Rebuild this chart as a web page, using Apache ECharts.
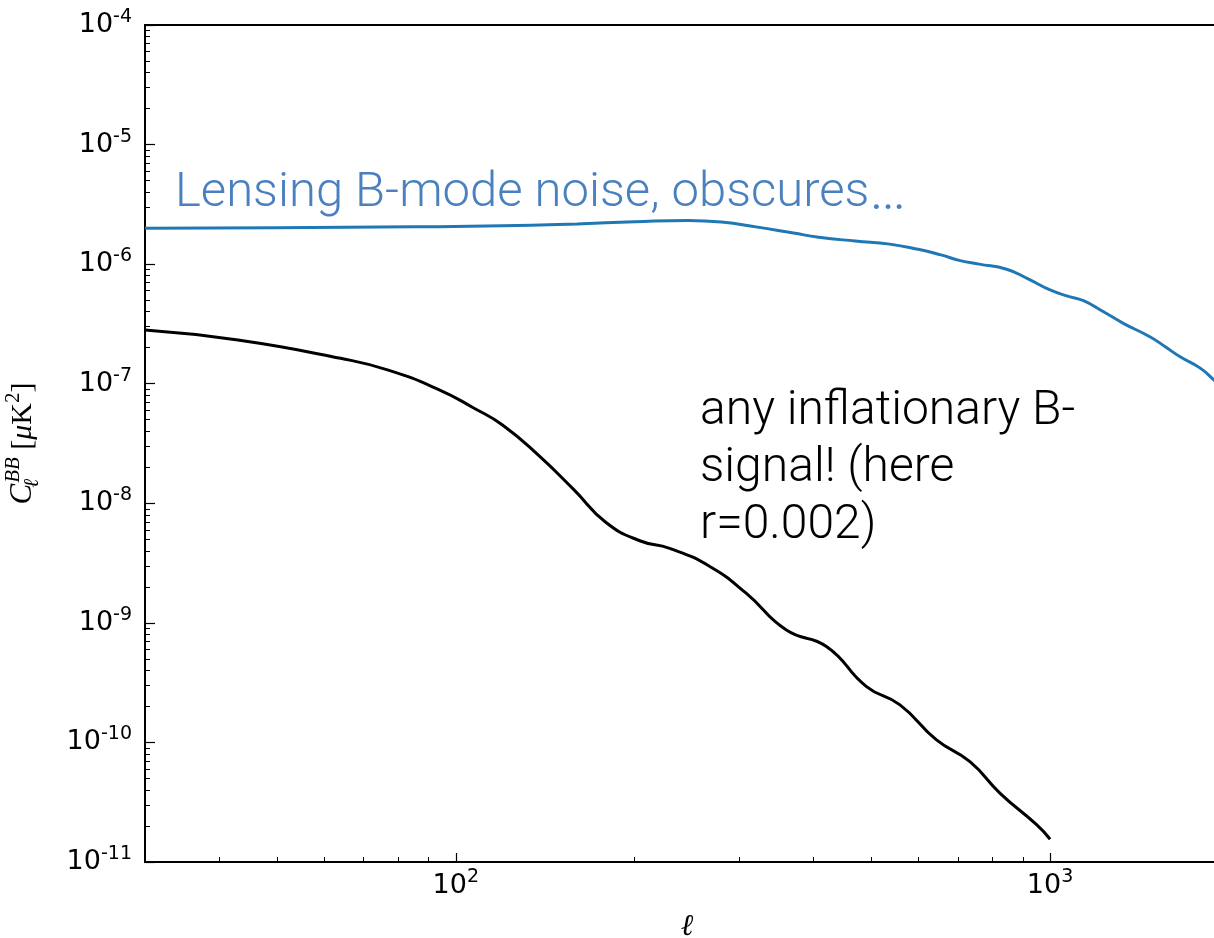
<!DOCTYPE html>
<html>
<head>
<meta charset="utf-8">
<script src="https://cdn.jsdelivr.net/npm/echarts@6/dist/echarts.min.js"></script>
<style>html,body{margin:0;padding:0;background:#fff}#c{width:1214px;height:938px}</style>
</head>
<body>
<div id="c"></div>
<script>
// ---- data ----
const lensEll = [30, 50, 85, 120, 160, 200, 246, 280, 320, 370, 408, 470, 537, 600, 653, 706, 760, 845, 920, 1000, 1070, 1138, 1230, 1328, 1472, 1560, 1655, 1789, 1888, 2000];
const lensCl  = [2.00e-6, 2.02e-6, 2.05e-6, 2.09e-6, 2.17e-6, 2.26e-6, 2.32e-6, 2.25e-6, 2.05e-6, 1.82e-6, 1.68e-6, 1.56e-6, 1.47e-6, 1.33e-6, 1.20e-6, 1.07e-6, 1.00e-6, 9.06e-7, 7.5e-7, 6.08e-7, 5.4e-7, 4.95e-7, 4.0e-7, 3.2e-7, 2.47e-7, 2.05e-7, 1.68e-7, 1.35e-7, 1.07e-7, 8.2e-8];
const inflEll = [30, 43, 64, 77, 94, 107, 120, 138, 158, 179, 204, 229, 268, 308, 360, 421, 491, 559, 644, 733, 824, 950, 1000];
const inflCl  = [2.81e-7, 2.32e-7, 1.63e-7, 1.30e-7, 8.85e-8, 6.3e-8, 4.5e-8, 2.5e-8, 1.3e-8, 6.9e-9, 4.86e-9, 4.2e-9, 2.95e-9, 1.77e-9, 8.7e-10, 6.32e-10, 2.93e-10, 2.06e-10, 1.05e-10, 6.9e-11, 3.75e-11, 2.04e-11, 1.55e-11];
const xMajor = [100, 1000];
const xMinor = [40, 50, 60, 70, 80, 90, 200, 300, 400, 500, 600, 700, 800, 900, 2000];
const yMajor = [1e-11, 1e-10, 1e-9, 1e-8, 1e-7, 1e-6, 1e-5, 1e-4];
const yMinor = [];
for (let k = -11; k < -4; k++) for (let d = 2; d <= 9; d++) yMinor.push(+(d * Math.pow(10, k)).toPrecision(3));
const lensText = 'Lensing B-mode noise, obscures';
const lensEllipsis = '…';
const inflText = 'any inflationary B-\nsignal! (here\nr=0.002)';

const zip = (a, b) => a.map((v, i) => [v, b[i]]);
const tickFont = 'DejaVu Sans';
const richTick = {
  b: {fontSize: 27, fontFamily: tickFont, color: '#000', lineHeight: 35},
  s: {fontSize: 19, fontFamily: tickFont, color: '#000', lineHeight: 19, verticalAlign: 'top'}
};
const fmtPow = v => '{b|10}{s|' + Math.round(Math.log10(v)) + '}';
const serif = 'Liberation Serif';
const annFont = 'Roboto, "Liberation Sans", sans-serif';

const chart = echarts.init(document.getElementById('c'), null, {renderer: 'canvas'});
chart.setOption({
  animation: false,
  grid: {left: 145, top: 25, right: -15, bottom: 76, outerBoundsMode: 'none', containLabel: false,
         show: true, borderColor: '#000', borderWidth: 2, backgroundColor: 'transparent'},
  xAxis: [
    {
      type: 'log', logBase: 10, min: 30, max: 2000, position: 'bottom',
      axisLine: {lineStyle: {color: '#000', width: 2}},
      axisTick: {inside: true, length: 9, customValues: xMajor, lineStyle: {color: '#000', width: 1.2}},
      axisLabel: {customValues: xMajor, formatter: fmtPow, rich: richTick, margin: 6},
      splitLine: {show: false},
      name: 'ℓ', nameLocation: 'middle', nameGap: 50,
      nameTextStyle: {fontFamily: serif, fontStyle: 'italic', fontSize: 30, color: '#000'}
    },
    {
      type: 'log', logBase: 10, min: 30, max: 2000, position: 'bottom', offset: 0,
      axisLine: {show: false},
      axisTick: {inside: true, length: 5, customValues: xMinor, lineStyle: {color: '#000', width: 1}},
      axisLabel: {show: false}, splitLine: {show: false}
    }
  ],
  yAxis: [
    {
      type: 'log', logBase: 10, min: 1e-11, max: 1e-4, position: 'left',
      axisLine: {lineStyle: {color: '#000', width: 2}},
      axisTick: {inside: true, length: 10, customValues: yMajor, lineStyle: {color: '#000', width: 1.2}},
      axisLabel: {customValues: yMajor, formatter: fmtPow, rich: richTick, margin: 13},
      splitLine: {show: false},
      name: '{c|C}{sub|ℓ}{sup|BB}{n| [}{mu|μ}{n|K}{s2|2}{n|]}',
      nameLocation: 'middle', nameGap: 102, nameRotate: 90,
      nameTextStyle: {
        rich: {
          c: {fontFamily: serif, fontStyle: 'italic', fontSize: 31, color: '#000', lineHeight: 40},
          sub: {fontFamily: serif, fontStyle: 'italic', fontSize: 21, color: '#000', lineHeight: 21, verticalAlign: 'bottom', width: 1},
          sup: {fontFamily: serif, fontStyle: 'italic', fontSize: 21, color: '#000', lineHeight: 21, verticalAlign: 'top'},
          n: {fontFamily: serif, fontSize: 30, color: '#000', lineHeight: 40},
          mu: {fontFamily: serif, fontStyle: 'italic', fontSize: 30, color: '#000', lineHeight: 40},
          s2: {fontFamily: serif, fontSize: 21, color: '#000', lineHeight: 21, verticalAlign: 'top'}
        }
      }
    },
    {
      type: 'log', logBase: 10, min: 1e-11, max: 1e-4, position: 'left', offset: 0,
      axisLine: {show: false},
      axisTick: {inside: true, length: 5, customValues: yMinor, lineStyle: {color: '#000', width: 1}},
      axisLabel: {show: false}, splitLine: {show: false}
    }
  ],
  series: [
    {
      type: 'line', name: 'lensing', data: zip(lensEll, lensCl), smooth: 0.5,
      showSymbol: false, lineStyle: {color: '#1f77b4', width: 3}, itemStyle: {color: '#1f77b4'}
    },
    {
      type: 'line', name: 'inflation', data: zip(inflEll, inflCl), smooth: 0.5,
      showSymbol: false, lineStyle: {color: '#000', width: 3}, itemStyle: {color: '#000'}
    }
  ],
  graphic: [
    {type: 'text', left: 175, top: 165, style: {
      text: '{a|' + lensText + '}{e|' + lensEllipsis + '}',
      rich: {
        a: {fontFamily: annFont, fontWeight: 300, fontSize: 49, fill: '#4a80c0', color: '#4a80c0', lineHeight: 56},
        e: {fontFamily: annFont, fontWeight: 300, fontSize: 58, fill: '#4a80c0', color: '#4a80c0', lineHeight: 56}
      }
    }},
    {type: 'text', left: 700, top: 383, style: {text: inflText, font: '300 48px ' + annFont, fill: '#000', lineHeight: 57}}
  ]
});
</script>
</body>
</html>
